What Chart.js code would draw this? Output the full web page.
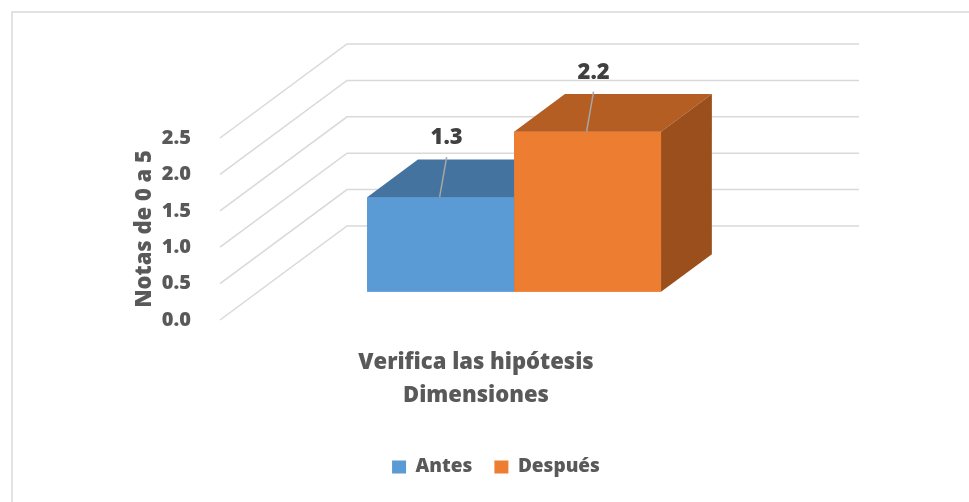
<!DOCTYPE html>
<html>
<head>
<meta charset="utf-8">
<script src="https://cdn.jsdelivr.net/npm/chart.js@4.4.1/dist/chart.umd.min.js"></script>
<style>
html, body { margin: 0; padding: 0; background: #fff; }
</style>
</head>
<body>
<canvas id="myChart" width="969" height="502"></canvas>
<script>
var categories = ["Verifica las hipótesis"];
var seriesNames = ["Antes", "Después"];
var antesValues = [1.3];
var despuesValues = [2.2];

var frontColors = ["#5b9bd5", "#ed7d31"];
var topColors = ["#44739f", "#b45e23"];
var sideColors = ["#3d6a93", "#9a4f1c"];

// fake 3d: floor depth in px, bars sit between 30% and 70% of it
var depthX = 127, depthY = -94;
var barFront = 0.3, barBack = 0.7;

var textGrey = "#595959";
var heavy = 800;
Chart.defaults.font.family = '"Open Sans", sans-serif';

var box3d = {
  id: "box3d",
  beforeDraw: function (chart) {
    var ctx = chart.ctx;
    ctx.save();
    ctx.fillStyle = "#fff";
    ctx.fillRect(0, 0, chart.width, chart.height);
    ctx.strokeStyle = "#d9d9d9";
    ctx.lineWidth = 1.5;
    ctx.strokeRect(12, 12, chart.width, chart.height);
    ctx.restore();
  },
  beforeDatasetsDraw: function (chart) {
    var ctx = chart.ctx, y = chart.scales.y, a = chart.chartArea;
    // side wall + back wall gridlines
    ctx.save();
    ctx.strokeStyle = "#d9d9d9";
    ctx.lineWidth = 1.5;
    ctx.beginPath();
    y.ticks.forEach(function (t) {
      var py = y.getPixelForValue(t.value);
      ctx.moveTo(a.left, py);
      ctx.lineTo(a.left + depthX, py + depthY);
      ctx.lineTo(a.right + depthX, py + depthY);
    });
    ctx.stroke();
    ctx.restore();
    // push the bars back into the box
    ctx.save();
    ctx.translate(barFront * depthX, barFront * depthY);
  },
  afterDatasetsDraw: function (chart) {
    var ctx = chart.ctx;
    var bars = [];
    chart.data.datasets.forEach(function (ds, i) {
      chart.getDatasetMeta(i).data.forEach(function (el, j) {
        bars.push({ el: el, ds: i, idx: j });
      });
    });
    bars.sort(function (p, q) { return p.el.x - q.el.x; });
    var dx = (barBack - barFront) * depthX, dy = (barBack - barFront) * depthY;
    bars.forEach(function (b) {
      var el = b.el;
      el.draw(ctx);
      var l = el.x - el.width / 2, r = el.x + el.width / 2, t = el.y, bt = el.base;
      ctx.fillStyle = topColors[b.ds];
      ctx.beginPath();
      ctx.moveTo(l, t); ctx.lineTo(r, t); ctx.lineTo(r + dx, t + dy); ctx.lineTo(l + dx, t + dy);
      ctx.closePath();
      ctx.fill();
      ctx.fillStyle = sideColors[b.ds];
      ctx.beginPath();
      ctx.moveTo(r, t); ctx.lineTo(r + dx, t + dy); ctx.lineTo(r + dx, bt + dy); ctx.lineTo(r, bt);
      ctx.closePath();
      ctx.fill();
    });
    // value labels with leader lines
    bars.forEach(function (b) {
      var el = b.el, v = chart.data.datasets[b.ds].data[b.idx];
      ctx.strokeStyle = "#a6a6a6";
      ctx.lineWidth = 1.5;
      ctx.beginPath();
      ctx.moveTo(el.x - 1, el.y);
      ctx.lineTo(el.x + 6, el.y - 40);
      ctx.stroke();
      ctx.fillStyle = "#404040";
      ctx.font = heavy + ' 22px "Open Sans"';
      ctx.textAlign = "center";
      ctx.textBaseline = "middle";
      ctx.fillText(v.toFixed(1), el.x + 6, el.y - 59);
    });
    ctx.restore();
  }
};

var chartData = {
  labels: categories,
  datasets: [
    { label: seriesNames[0], data: antesValues, backgroundColor: frontColors[0], borderWidth: 0 },
    { label: seriesNames[1], data: despuesValues, backgroundColor: frontColors[1], borderWidth: 0 }
  ]
};

var myChart = new Chart(document.getElementById("myChart"), {
  type: "bar",
  data: chartData,
  plugins: [box3d],
  options: {
    responsive: false,
    animation: false,
    events: [],
    layout: { padding: { left: 129, right: 106, top: 138, bottom: 15.5 } },
    datasets: { bar: { categoryPercentage: 0.574, barPercentage: 1 } },
    plugins: {
      legend: {
        position: "bottom",
        labels: {
          font: { size: 19, weight: heavy },
          color: textGrey,
          boxWidth: 14,
          boxHeight: 13,
          padding: 22
        }
      },
      tooltip: { enabled: false }
    },
    scales: {
      x: {
        grid: { display: false },
        border: { display: false },
        ticks: { font: { size: 22, weight: heavy }, color: textGrey, padding: 22, maxRotation: 0 },
        title: {
          display: true,
          text: "Dimensiones",
          font: { size: 22, weight: heavy },
          color: textGrey,
          padding: { top: 0, bottom: 27 }
        },
        afterFit: function (s) { s.height = 115.5; }
      },
      y: {
        min: 0,
        max: 2.5,
        grid: { display: false },
        border: { display: false },
        ticks: {
          stepSize: 0.5,
          padding: 21,
          font: { size: 20, weight: heavy },
          color: textGrey,
          callback: function (v) { return v.toFixed(1); }
        },
        title: {
          display: true,
          text: "Notas de 0 a 5",
          font: { size: 22, weight: heavy },
          color: textGrey,
          padding: { top: 3, bottom: 0 }
        },
        afterFit: function (s) { s.width = 91; }
      },
      y2: {
        position: "right",
        grid: { display: false },
        border: { display: false },
        ticks: { display: false },
        afterFit: function (s) { s.width = 131; }
      }
    }
  }
});
</script>
</body>
</html>
